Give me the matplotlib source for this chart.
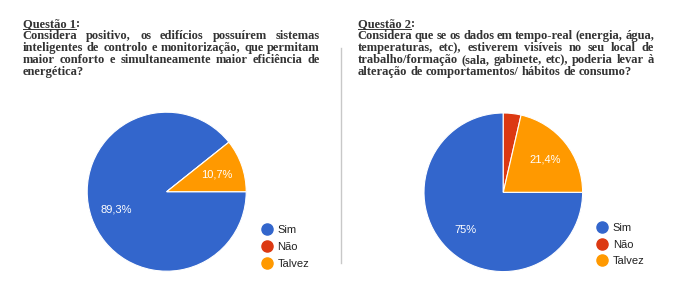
import matplotlib
matplotlib.use("Agg")
import matplotlib.pyplot as plt
from matplotlib.lines import Line2D

W, H, DPI = 677, 289, 100

categories = ["Sim", "Não", "Talvez"]
colors = ["#3366cc", "#dc3912", "#ff9900"]
q1_values = [89.3, 0.0, 10.7]
q2_values = [75.0, 3.6, 21.4]

q1_title = "Questão 1"
q1_lines = [
    "Considera positivo, os edifícios possuírem sistemas",
    "inteligentes de controlo e monitorização, que permitam",
    "maior conforto e simultaneamente maior eficiência de",
    "energética?",
]
q2_title = "Questão 2"
q2_lines = [
    "Considera que se os dados em tempo-real (energia, água,",
    "temperaturas, etc),  estiverem visíveis no seu local de",
    "trabalho/formação (sala, gabinete, etc), poderia levar à",
    "alteração de comportamentos/ hábitos de consumo?",
]

fig = plt.figure(figsize=(W / DPI, H / DPI), dpi=DPI)
renderer = fig.canvas.get_renderer()
body = dict(family="Liberation Serif", size=9.0, weight="bold", color="#333333")


def px(x, y):
    return x / W, 1 - y / H


def width_of(t):
    return t.get_window_extent(renderer).width


def measure(s):
    t = fig.text(0, 0, s, **body)
    w = width_of(t)
    t.remove()
    return w


def paragraph(x0, x1, base, title, lines, step=12):
    t = fig.text(*px(x0, base), title, va="baseline", **body)
    tw = width_of(t)
    fig.text(*px(x0 + tw, base), ":", va="baseline", **body)
    fig.add_artist(Line2D([x0 / W, (x0 + tw) / W], [1 - (base + 2) / H] * 2,
                          color=body["color"], lw=0.7))
    space = measure("a a") - measure("aa")
    for i, line in enumerate(lines):
        y = base + step * (i + 1)
        words = line.split()
        texts = [fig.text(0, 0, w, va="baseline", **body) for w in words]
        widths = [width_of(tx) for tx in texts]
        if i < len(lines) - 1 and len(words) > 1:
            gap = (x1 - x0 - sum(widths)) / (len(words) - 1)
        else:
            gap = space
        x = x0
        for tx, w in zip(texts, widths):
            tx.set_position(px(x, y))
            x += w + gap


def pct_label(p):
    if p < 5:
        return ""
    s = f"{p:.1f}".rstrip("0").rstrip(".")
    return s.replace(".", ",") + "%"


def pie(cx, cy, r, values, lx, ly):
    pad = 1.02
    ax = fig.add_axes([(cx - r * pad) / W, 1 - (cy + r * pad) / H,
                       2 * r * pad / W, 2 * r * pad / H])
    ax.pie(values, colors=colors, startangle=0, counterclock=False,
           autopct=pct_label, pctdistance=0.67,
           wedgeprops=dict(edgecolor="white", linewidth=0.8),
           textprops=dict(color="white", family="Liberation Sans", size=8))
    ax.set_xlim(-pad, pad)
    ax.set_ylim(-pad, pad)
    handles = [Line2D([], [], ls="none", marker="o", ms=8, mfc=c, mec=c)
               for c in colors]
    fig.legend(handles, categories, loc="center left", bbox_to_anchor=px(lx, ly),
               frameon=False, prop=dict(family="Liberation Sans", size=8),
               labelcolor="#222222", handlelength=1.0, handletextpad=0.45,
               labelspacing=0.62, borderpad=0, borderaxespad=0)


paragraph(22.7, 320, 27.3, q1_title, q1_lines)
paragraph(357.7, 654, 27.3, q2_title, q2_lines)

fig.add_artist(Line2D([341 / W] * 2, [1 - 48 / H, 1 - 263 / H], color="#c8c8c8", lw=1))

pie(166.7, 191.7, 79.5, q1_values, 261.2, 247)
pie(503.3, 192.3, 79.3, q2_values, 596.8, 244.5)

fig.savefig("out.png", dpi=DPI)
